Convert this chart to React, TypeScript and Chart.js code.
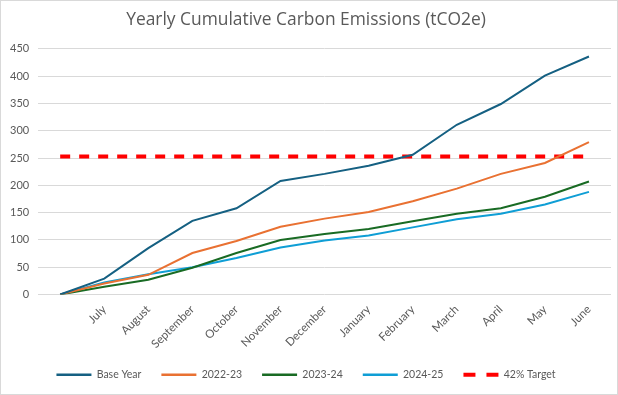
import React, { useEffect, useRef } from "react";
import { Chart, registerables } from "chart.js";

Chart.register(...registerables);

const categories = ["", "July", "August", "September", "October", "November", "December", "January", "February", "March", "April", "May", "June"];
const baseYear = [0, 29, 85, 135, 158, 208, 221, 236, 256, 311, 349, 401, 436];
const fy2223 = [0, 20, 36, 76, 98, 124, 139, 151, 171, 194, 221, 241, 279];
const fy2324 = [0, 14, 27, 49, 76, 100, 111, 120, 134, 148, 158, 179, 207];
const fy2425 = [0, 22, 37, 50, 67, 86, 99, 108, 123, 138, 148, 165, 188];
const targetValue = 253;
const target = categories.map(() => targetValue);

const FONT = "Lato, 'Liberation Sans', sans-serif";
const GREY = "#595959";

export default function App() {
  const ref = useRef<HTMLCanvasElement | null>(null);
  useEffect(() => {
    if (!ref.current) return;
    const chart = new Chart(ref.current, {
      type: "line",
      data: {
        labels: categories,
        datasets: [
          { label: "Base Year", data: baseYear, borderColor: "#156082", backgroundColor: "#156082", borderWidth: 2, pointRadius: 0, tension: 0 },
          { label: "2022-23", data: fy2223, borderColor: "#E97132", backgroundColor: "#E97132", borderWidth: 2, pointRadius: 0, tension: 0 },
          { label: "2023-24", data: fy2324, borderColor: "#196B24", backgroundColor: "#196B24", borderWidth: 2, pointRadius: 0, tension: 0 },
          { label: "2024-25", data: fy2425, borderColor: "#0F9ED5", backgroundColor: "#0F9ED5", borderWidth: 2, pointRadius: 0, tension: 0 },
          { label: "42% Target", data: target, borderColor: "#FF0000", backgroundColor: "#FF0000", borderWidth: 4, borderDash: [10, 9], pointRadius: 0, tension: 0 },
        ],
      },
      options: {
        responsive: false,
        animation: false,
        layout: { padding: { left: 0, right: 6, top: 4, bottom: 4 } },
        plugins: {
          title: {
            display: true,
            text: "Yearly Cumulative Carbon Emissions (tCO2e)",
            color: GREY,
            font: { family: "'Open Sans', sans-serif", size: 17.4, weight: "normal" },
            padding: { top: 5, bottom: 18 },
          },
          legend: {
            position: "bottom",
            labels: {
              usePointStyle: true,
              pointStyle: "line",
              pointStyleWidth: 35,
              boxHeight: 11,
              color: GREY,
              padding: 20,
              font: { family: FONT, size: 10.5 },
              generateLabels: (ch: any) => {
                const items = Chart.defaults.plugins.legend.labels.generateLabels(ch);
                items.forEach((it: any) => {
                  const ds: any = ch.data.datasets[it.datasetIndex];
                  const dashed = !!ds.borderDash;
                  it.lineWidth = dashed ? 4 : 2.5;
                  it.lineDash = dashed ? [12, 11] : [];
                  it.strokeStyle = ds.borderColor;
                  it.fillStyle = ds.borderColor;
                  it.pointStyle = "line";
                });
                return items;
              },
            },
          },
          tooltip: { enabled: false },
        },
        scales: {
          x: {
            offset: true,
            grid: { display: false },
            border: { display: false },
            ticks: { color: GREY, font: { family: FONT, size: 11.5 }, padding: 0, labelOffset: 0, maxRotation: 45, minRotation: 45, autoSkip: false },
            afterFit: (scale: any) => {
              scale.height = 55;
              scale._computeLabelArea = () => undefined;
            },
          },
          y: {
            min: 0,
            max: 450,
            grid: { color: "#d9d9d9", drawTicks: false },
            border: { display: false },
            ticks: { stepSize: 50, color: GREY, padding: 9, font: { family: FONT, size: 11 } },
          },
        },
      },
    });
    return () => chart.destroy();
  }, []);
  return (
    <div style={{ position: "fixed", left: 0, top: 0, width: 618, height: 395, boxSizing: "border-box", border: "1px solid #d9d9d9", background: "#fff" }}>
      <canvas ref={ref} width={616} height={393} style={{ display: "block" }} />
    </div>
  );
}
